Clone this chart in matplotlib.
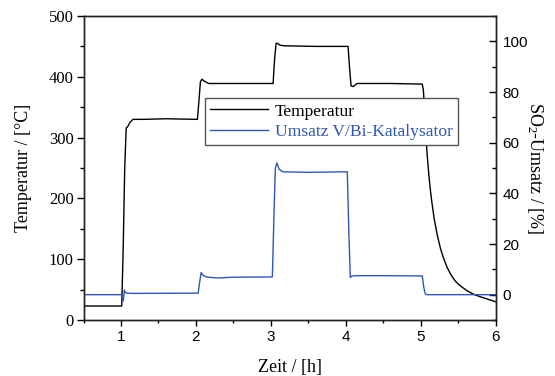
import matplotlib
matplotlib.use("Agg")
import matplotlib.pyplot as plt
from matplotlib.ticker import MultipleLocator

plt.rcParams["font.family"] = ["Liberation Serif", "DejaVu Serif"]
plt.rcParams["mathtext.default"] = "regular"

# Reactor temperature over time [h, °C]
time_temp = [0.50, 1.01, 1.03, 1.05, 1.07, 1.09, 1.12, 1.16, 1.30, 1.60,
             2.02, 2.04, 2.06, 2.08, 2.11, 2.17, 2.50,
             3.03, 3.05, 3.07, 3.09, 3.12, 3.18, 3.60,
             4.03, 4.05, 4.07, 4.10, 4.15, 4.60,
             5.02, 5.035, 5.05, 5.07, 5.09, 5.11, 5.13, 5.15, 5.18, 5.22,
             5.26, 5.30, 5.35, 5.40, 5.46, 5.53, 5.62, 5.71, 5.80, 5.90, 6.00]
temp = [23, 23, 120, 250, 316, 318, 325, 330, 330, 331,
        330, 360, 392, 396, 393, 389, 389,
        389, 430, 455, 455, 452, 451, 450,
        450, 415, 385, 384, 389, 389,
        388, 378, 348, 300, 265, 236, 212, 192, 166, 140,
        119, 103, 87, 75, 64, 56, 48, 42, 38, 34, 30]

# SO2 conversion over time [h, %]
time_conv = [0.50, 1.01, 1.03, 1.045, 1.06, 1.08, 1.15,
             2.03, 2.05, 2.07, 2.10, 2.15, 2.30, 2.50,
             3.02, 3.04, 3.06, 3.08, 3.11, 3.16, 3.50,
             4.02, 4.04, 4.06, 4.08, 4.12, 4.50,
             5.02, 5.04, 5.06, 5.08, 5.20, 6.00]
conv = [0.0, 0.0, -2.5, 1.8, 0.8, 0.6, 0.5,
        0.6, 5.0, 8.7, 7.5, 6.9, 6.6, 6.9,
        7.0, 30.0, 50.0, 52.0, 49.5, 48.5, 48.3,
        48.5, 25.0, 6.8, 7.3, 7.5, 7.5,
        7.4, 3.0, 0.3, 0.0, 0.0, 0.0]

x_ticks = [1, 2, 3, 4, 5, 6]
temp_ticks = [0, 100, 200, 300, 400, 500]
conv_ticks = [0, 20, 40, 60, 80, 100]

blue = "#2f55b8"
sans = ["Liberation Sans", "DejaVu Sans"]

fig = plt.figure(figsize=(5.55, 3.76), dpi=100)
ax = fig.add_axes([83.5 / 555, 1 - 320 / 376, 412.2 / 555, 304 / 376])
ax2 = ax.twinx()

l1, = ax.plot(time_temp, temp, color="black", lw=1.0, label="Temperatur")
l2, = ax2.plot(time_conv, conv, color=blue, lw=1.0, label="Umsatz V/Bi-Katalysator")

ax.set_xlim(0.5, 6)
ax.set_ylim(0, 500)
ax2.set_ylim(-10, 110)

ax.set_xticks(x_ticks)
ax.xaxis.set_minor_locator(MultipleLocator(0.5))
ax.set_yticks(temp_ticks)
ax.yaxis.set_minor_locator(MultipleLocator(50))
ax2.set_yticks(conv_ticks)
ax2.yaxis.set_minor_locator(MultipleLocator(10))

for a in (ax, ax2):
    for s in a.spines.values():
        s.set_linewidth(1.0)
        s.set_color("#222222")

ax.tick_params(axis="x", which="major", direction="out", length=4, width=1,
               labelsize=11, pad=3)
ax.tick_params(axis="x", which="minor", direction="out", length=2.5, width=1)
ax.tick_params(axis="y", which="major", direction="out", length=5, width=1,
               labelsize=12, pad=2)
ax.tick_params(axis="y", which="minor", direction="out", length=3, width=1)
ax2.tick_params(axis="y", which="major", direction="in", length=5, width=1,
                labelsize=11, pad=5)
ax2.tick_params(axis="y", which="minor", direction="in", length=3, width=1)

for lab in ax.get_xticklabels() + ax2.get_yticklabels():
    lab.set_family(sans)

ax.set_xlabel("Zeit / [h]", fontsize=13, labelpad=11)
ax.set_ylabel("Temperatur / [°C]", fontsize=13, labelpad=12)
ax2.set_ylabel("SO$_2$-Umsatz / [%]", fontsize=13, rotation=270, labelpad=12)

leg = ax2.legend(handles=[l1, l2], loc="upper left", bbox_to_anchor=(0.295, 0.73),
                 borderaxespad=0, fontsize=12.6, frameon=True, fancybox=False,
                 framealpha=1, edgecolor="#555555", handlelength=3.3,
                 handletextpad=0.4, labelspacing=0.25, borderpad=0.3)
leg.get_frame().set_linewidth(1.0)
for txt, col in zip(leg.get_texts(), ["black", blue]):
    txt.set_color(col)

fig.savefig("out.png", dpi=100)
